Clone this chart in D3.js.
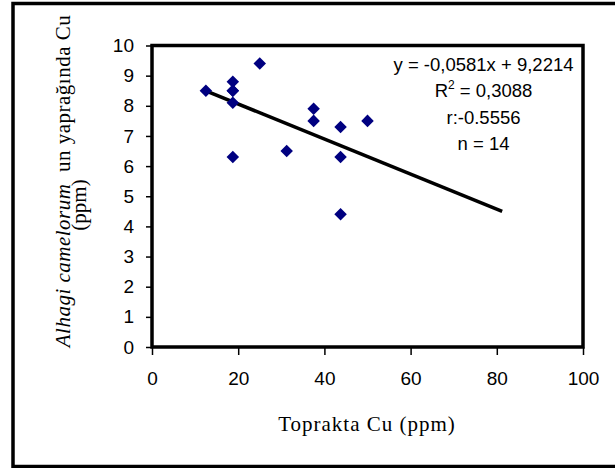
<!DOCTYPE html>
<html>
<head>
<meta charset="utf-8">
<script src="https://cdn.jsdelivr.net/npm/d3@7"></script>
<style>
  body { margin: 0; background: #fff; }
  svg { display: block; }
</style>
</head>
<body>
<svg id="chart" width="615" height="468"></svg>
<script>
// Soil Cu (x) vs. leaf Cu (y), ppm
const soilCu = [12.5, 18.75, 18.75, 18.75, 18.75, 18.75, 25, 31.25, 37.5, 37.5, 43.75, 43.75, 43.75, 50];
const leafCu = [8.5, 8.8, 8.5, 8.5, 8.1, 6.3, 9.4, 6.5, 7.9, 7.5, 7.3, 6.3, 4.4, 7.5];

// Trendline from the equation shown on the chart
const slope = -0.0581;
const intercept = 9.2214;
const trendX = [12.5, 81.25];

const xTicks = [0, 20, 40, 60, 80, 100];
const yTicks = [0, 1, 2, 3, 4, 5, 6, 7, 8, 9, 10];
const statsLines = ["y  = -0,0581x  + 9,2214", "R2 = 0,3088", "r:-0.5556", "n = 14"];

const svg = d3.select("#chart");

// Outer frame (right edge runs off the picture)
svg.append("rect")
    .attr("x", 13).attr("y", 3.5)
    .attr("width", 610).attr("height", 463)
    .attr("fill", "none").attr("stroke", "#000").attr("stroke-width", 3.5);

const plot = { left: 152, right: 583, top: 45.5, bottom: 347 };

const x = d3.scaleLinear().domain([0, 100]).range([plot.left, plot.right]);
const y = d3.scaleLinear().domain([0, 10]).range([plot.bottom, plot.top]);

// Plot area border
svg.append("rect")
    .attr("x", plot.left).attr("y", plot.top)
    .attr("width", plot.right - plot.left).attr("height", plot.bottom - plot.top)
    .attr("fill", "none").attr("stroke", "#000").attr("stroke-width", 3.5);

// Axes
const xAxis = svg.append("g")
    .attr("transform", `translate(0,${plot.bottom})`)
    .call(d3.axisBottom(x).tickValues(xTicks).tickSize(8).tickPadding(17).tickFormat(d3.format("d")));

const yAxis = svg.append("g")
    .attr("transform", `translate(${plot.left},0)`)
    .call(d3.axisLeft(y).tickValues(yTicks).tickSize(6).tickPadding(12).tickFormat(d3.format("d")));

[xAxis, yAxis].forEach(g => {
    g.select(".domain").remove();
    g.selectAll(".tick line").attr("stroke", "#000").attr("stroke-width", 1.5);
    g.selectAll(".tick text")
        .attr("fill", "#000")
        .style("font-family", "Liberation Sans, Arial, sans-serif")
        .style("font-size", "19px");
});

// Trendline
svg.append("line")
    .attr("x1", x(trendX[0])).attr("y1", y(slope * trendX[0] + intercept))
    .attr("x2", x(trendX[1])).attr("y2", y(slope * trendX[1] + intercept))
    .attr("stroke", "#000").attr("stroke-width", 3.5);

// Diamond markers
const diamond = d3.symbol().type(d3.symbolDiamond2).size(100);
svg.append("g").selectAll("path")
    .data(soilCu.map((d, i) => ({ x: d, y: leafCu[i] })))
    .join("path")
    .attr("d", diamond)
    .attr("transform", d => `translate(${x(d.x)},${y(d.y)})`)
    .attr("fill", "#000080");

// Regression stats
const stats = svg.append("g")
    .style("font-family", "Liberation Sans, Arial, sans-serif")
    .style("font-size", "18.5px")
    .attr("text-anchor", "middle");

statsLines.forEach((t, i) => {
    const txt = stats.append("text")
        .attr("x", 483.5)
        .attr("y", 70.5 + i * 26.5);
    if (t.startsWith("R2")) {
        txt.append("tspan").text("R");
        txt.append("tspan").attr("dy", -8).style("font-size", "12px").text("2");
        txt.append("tspan").attr("dy", 8).text(t.slice(2));
    } else {
        txt.text(t);
    }
});

// X axis title
svg.append("text")
    .attr("x", 367).attr("y", 431)
    .attr("text-anchor", "middle")
    .style("font-family", "Liberation Serif, Times New Roman, serif")
    .style("font-size", "21px")
    .style("letter-spacing", "1px")
    .text("Toprakta Cu (ppm)");

// Y axis title (two lines, rotated)
const yTitle = svg.append("g")
    .style("font-family", "Liberation Serif, Times New Roman, serif")
    .style("font-size", "21px")
    .attr("text-anchor", "middle");

const line1 = yTitle.append("text")
    .attr("transform", "translate(70,181) rotate(-90)")
    .style("letter-spacing", "0.5px");
line1.append("tspan").style("font-style", "italic").text("Alhagi camelorum");
line1.append("tspan").text("\u00a0 un yaprağında Cu");

yTitle.append("text")
    .attr("transform", "translate(86,205) rotate(-90)")
    .text("(ppm)");
</script>
</body>
</html>
